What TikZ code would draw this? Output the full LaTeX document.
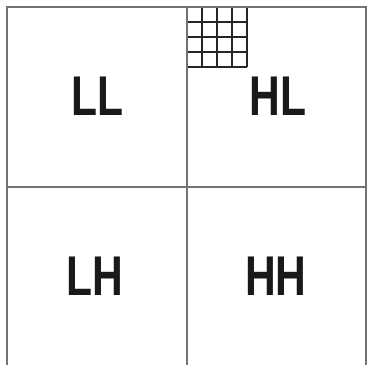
\documentclass[tikz,border=0pt]{standalone}
\usepackage{fontspec}
\setmainfont{Liberation Sans}
\begin{document}
\begin{tikzpicture}[x=1pt,y=-1pt,
  frame/.style={draw=black!55,line width=2pt},
  gridline/.style={draw=black!85,line width=1.2pt},
  band/.style={font=\fontsize{56}{56}\selectfont\bfseries,text=black!90,anchor=base,inner sep=0pt,xscale=0.76}]
\useasboundingbox (0,0) rectangle (367,365);
\fill[white] (0,0) rectangle (367,365);
% sub-grid in HL corner
\foreach \k in {0,1,2,3,4} {
  \draw[gridline] (187+15*\k,7) -- (187+15*\k,67);
  \draw[gridline] (187,7+15*\k) -- (247,7+15*\k);
}
% frame
\draw[frame] (7,365) -- (7,7) -- (365.5,7) -- (365.5,365);
\draw[frame] (186.5,7) -- (186.5,365);
\draw[frame] (7,187) -- (365.5,187);
% labels
\node[band] (ll) at (97.5,115) {LL};
\node[band] (hl) at (278,115) {HL};
\node[band] (lh) at (95,295) {LH};
\node[band] (hh) at (276,295) {HH};
\end{tikzpicture}
\end{document}
